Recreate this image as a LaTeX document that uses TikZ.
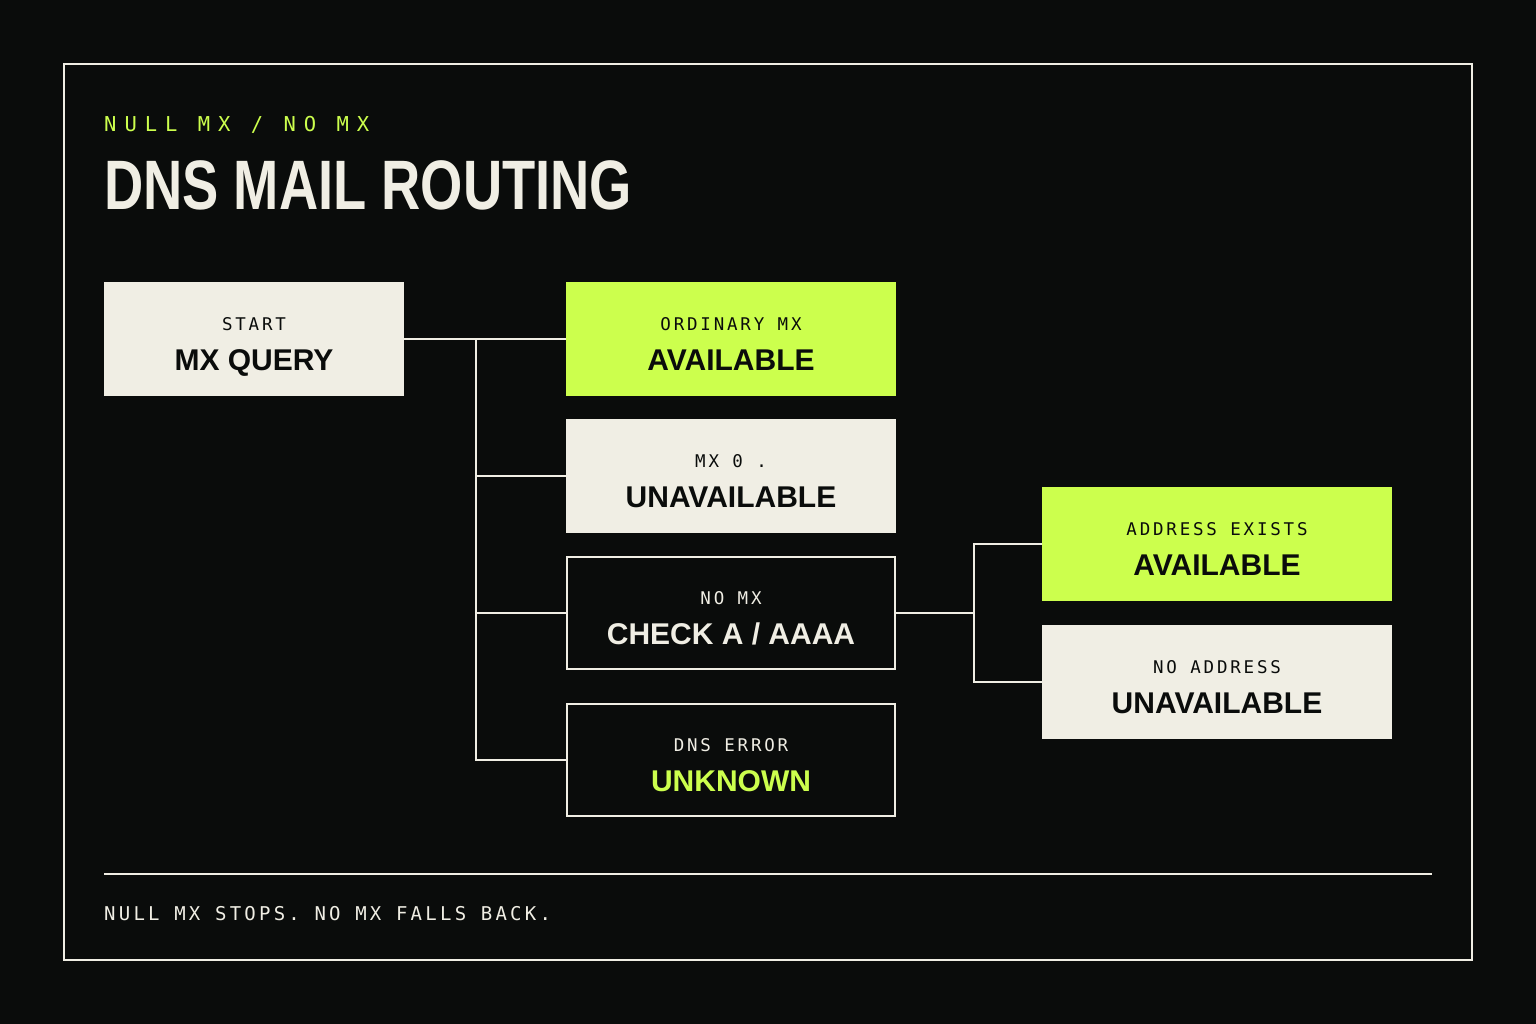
\documentclass[tikz,border=0pt]{standalone}
\usepackage{fontspec}
\setmainfont{Liberation Sans}
\newfontfamily\monocard[LetterSpace=16]{DejaVu Sans Mono}
\newfontfamily\monosub[LetterSpace=39]{DejaVu Sans Mono}
\newfontfamily\monofoot[LetterSpace=17]{DejaVu Sans Mono}
\definecolor{bgc}{HTML}{0A0C0B}
\definecolor{lime}{HTML}{CCFF4D}
\definecolor{cream}{HTML}{F0EEE4}
\tikzset{
  cardbase/.style={rectangle, inner sep=0pt, minimum height=114pt},
  creamcard/.style={cardbase, fill=cream},
  limecard/.style={cardbase, fill=lime},
  outlinecard/.style={cardbase, draw=cream, line width=2pt, fill=bgc, minimum height=112pt},
  smalltxt/.style={anchor=base, inner sep=0pt, font=\monocard\fontsize{17.5}{20}\selectfont},
  bigtxt/.style={anchor=base, inner sep=0pt, font=\bfseries\fontsize{30}{33}\selectfont},
  conn/.style={draw=cream, line width=2pt, line join=miter},
}
\newcommand\cardlabels[5]{%
  \node[smalltxt, text=#4] (#1-s) at ([yshift=8.5pt]#1.center) {#2};
  \node[bigtxt, text=#5] (#1-b) at ([yshift=-31.5pt]#1.center) {#3};
}
\begin{document}
\begin{tikzpicture}[x=1pt, y=-1pt]
  \fill[bgc] (0,0) rectangle (1536,1024);
  \useasboundingbox (0,0) rectangle (1536,1024);
  \draw[cream, line width=2pt] (64,64) rectangle (1472,960);

  % header
  \node[anchor=base west, inner sep=0pt, text=lime, font=\monosub\fontsize{20.5}{24}\selectfont] (sub) at (104,132) {NULL MX / NO MX};
  \node[anchor=base west, inner sep=0pt, text=cream] (title) at (104,209.5)
    {\scalebox{0.776}[1]{\fontsize{70}{70}\selectfont\bfseries DNS MAIL ROUTING}};

  \coordinate (j1) at (476,339);
  \coordinate (j2) at (974,613);

  % cards
  \node[creamcard, minimum width=300pt] (start) at (254,339) {};
  \node[limecard, minimum width=330pt] (ordinary) at (731,339) {};
  \node[creamcard, minimum width=330pt] (mxzero) at (731,476) {};
  \node[outlinecard, minimum width=328pt] (nomx) at (731,613) {};
  \node[outlinecard, minimum width=328pt] (dnserr) at (731,760) {};
  \node[limecard, minimum width=350pt] (addr) at (1217,544) {};
  \node[creamcard, minimum width=350pt] (noaddr) at (1217,682) {};

  % connectors
  \draw[conn] (start.east) -- (ordinary.west);
  \draw[conn] (j1) |- (dnserr.west);
  \draw[conn] (j1 |- mxzero.west) -- (mxzero.west);
  \draw[conn] (j1 |- nomx.west) -- (nomx.west);
  \draw[conn] (nomx.east) -- (j2);
  \draw[conn] (addr.west) -| (j2) |- (noaddr.west);

  \cardlabels{start}{START}{MX QUERY}{bgc}{bgc}
  \cardlabels{ordinary}{ORDINARY MX}{AVAILABLE}{bgc}{bgc}
  \cardlabels{mxzero}{MX 0 .}{UNAVAILABLE}{bgc}{bgc}
  \cardlabels{nomx}{NO MX}{CHECK A / AAAA}{cream}{cream}
  \cardlabels{dnserr}{DNS ERROR}{UNKNOWN}{cream}{lime}
  \cardlabels{addr}{ADDRESS EXISTS}{AVAILABLE}{bgc}{bgc}
  \cardlabels{noaddr}{NO ADDRESS}{UNAVAILABLE}{bgc}{bgc}

  % footer
  \coordinate (fl) at (104,874);
  \coordinate (fr) at (1432,874);
  \draw[cream, line width=2pt] (fl) -- (fr);
  \node[anchor=base west, inner sep=0pt, text=cream, font=\monofoot\fontsize{19}{22}\selectfont] (foot) at (104,920.5) {NULL MX STOPS. NO MX FALLS BACK.};
\end{tikzpicture}
\end{document}
